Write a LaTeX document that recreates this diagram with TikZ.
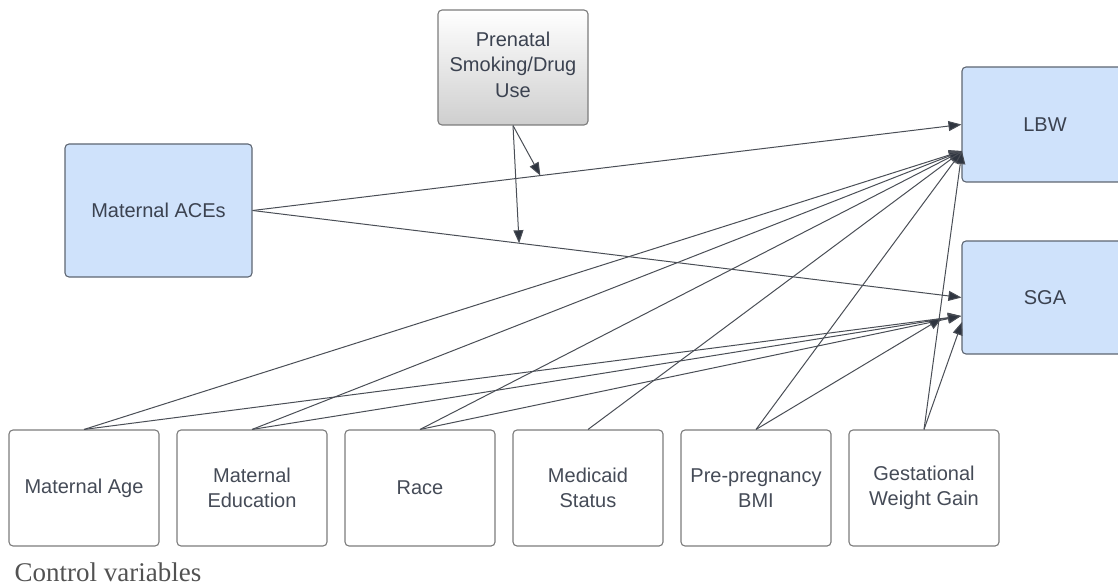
\documentclass[tikz,border=0pt]{standalone}
\usepackage{fontspec}
\setmainfont{Liberation Sans}
\newfontfamily\capfont{Liberation Serif}
\usetikzlibrary{arrows.meta,calc}
\definecolor{txt}{HTML}{3B4250}
\definecolor{bluefill}{HTML}{CFE2FB}
\definecolor{blueedge}{HTML}{5E6672}
\definecolor{grayedge}{HTML}{7C7C7C}
\definecolor{linec}{HTML}{4A4E56}
\definecolor{headc}{HTML}{2F3540}
\tikzset{
  box/.style={draw=grayedge, line width=1.1pt, rounded corners=4pt, fill=white,
    minimum width=150pt, minimum height=116pt, align=center, text=txt!85!gray,
    font=\fontsize{20}{25.5}\selectfont, inner sep=0pt},
  bluebox/.style={box, draw=blueedge, fill=bluefill, text=txt},
  conn/.style={draw=linec, line width=1pt, -{Triangle[length=13pt,width=10pt,fill=headc]}},
}
\begin{document}
\begin{tikzpicture}[x=1pt,y=-1pt]
\useasboundingbox (0,0) rectangle (1118,588);
\begin{scope}
\clip (0,0) rectangle (1118,588);
% nodes
\node[bluebox, minimum width=187pt, minimum height=133pt] (aces) at (158.5,210.5) {Maternal ACEs};
\node[box, draw=grayedge, top color=white, bottom color=gray!38, text=txt,
      minimum width=150pt, minimum height=115pt] (pren) at (513,67.5) {Prenatal\\Smoking/Drug\\Use\rule[-6pt]{0pt}{0pt}};
\node[bluebox, minimum width=166pt, minimum height=115pt] (lbw) at (1045,124.5) {LBW};
\node[bluebox, minimum width=166pt, minimum height=113pt] (sga) at (1045,297.5) {SGA};

\node[box] (age) at (84,488) {Maternal Age};
\node[box] (edu) at (252,488) {Maternal\\Education};
\node[box] (race) at (420,488) {Race};
\node[box] (med) at (588,488) {Medicaid\\Status};
\node[box] (bmi) at (756,488) {Pre-pregnancy\\BMI};
\node[box] (gwg) at (924,488) {Gestational\\Weight Gain};

\node[anchor=base west, font=\capfont\fontsize{27}{30}\selectfont, text=black!68] (cv) at (11,581) {Control variables};

% target points
\coordinate (lbwin) at (962,151);
\coordinate (sgain) at (961,316);
\coordinate (sgain2) at (942,318);
\coordinate (sgain3) at (962,322);

% ACEs arrows
\draw[conn] (aces.east) -- (lbw.west);
\draw[conn] (aces.east) -- (sga.west);
% moderator arrows
\coordinate (m1) at ($(aces.east)!0.406!(lbw.west)$);
\coordinate (m2) at ($(aces.east)!0.376!(sga.west)$);
\draw[conn] (pren.south) -- (m1);
\draw[conn] (pren.south) -- (m2);

% control variable arrows
\draw[conn] (age.north) -- (lbwin);
\draw[conn] (age.north) -- (sgain);
\draw[conn] (edu.north) -- (lbwin);
\draw[conn] (edu.north) -- (sgain);
\draw[conn] (race.north) -- (lbwin);
\draw[conn] (race.north) -- (sgain);
\draw[conn] (med.north) -- (lbwin);
\draw[conn] (bmi.north) -- (lbwin);
\draw[conn] (bmi.north) -- (sgain2);
\draw[conn] (gwg.north) -- (lbwin);
\draw[conn] (gwg.north) -- (sgain3);
\end{scope}
\end{tikzpicture}
\end{document}
